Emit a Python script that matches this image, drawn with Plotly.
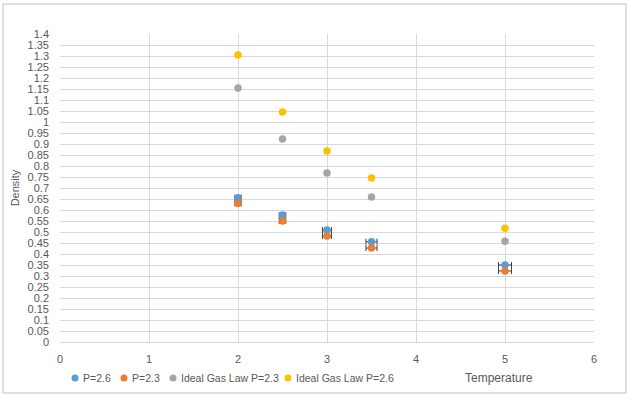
import plotly.graph_objects as go

temps = [2, 2.5, 3, 3.5, 5]
density_p26 = [0.656, 0.577, 0.509, 0.456, 0.350]
density_p23 = [0.630, 0.550, 0.482, 0.427, 0.323]
ideal_p23 = [1.155, 0.923, 0.768, 0.659, 0.458]
ideal_p26 = [1.305, 1.045, 0.868, 0.745, 0.517]
temp_err = [0.035, 0.037, 0.05, 0.062, 0.073]

names = ["P=2.6", "P=2.3", "Ideal Gas Law P=2.3", "Ideal Gas Law P=2.6"]
colors = ["#5B9BD5", "#ED7D31", "#A5A5A5", "#FFC000"]
series = [density_p26, density_p23, ideal_p23, ideal_p26]
errs = [temp_err, temp_err, None, None]

# plot area in pixels
L, R, T, B = 60, 594, 34, 342
W, H = R - L, B - T


def px_x(p):
    return (p - L) / W


def px_y(p):
    return (B - p) / H


fig = go.Figure()
for n, c, s, e in zip(names, colors, series, errs):
    kw = {}
    if e is not None:
        kw["error_x"] = dict(type="data", array=e, visible=True, color="#404040",
                             thickness=1, width=3)
    fig.add_trace(go.Scatter(x=temps, y=s, mode="markers", name=n, showlegend=False,
                             marker=dict(color=c, size=7.5), **kw))

ytick_vals = [round(i * 0.05, 2) for i in range(29)]
ytick_text = [("%g" % v) for v in ytick_vals]

# legend drawn at the bottom, Excel style (marker + label)
legend_marker_pos = [75, 124, 173, 288]
legend_text_pos = [81, 130, 179, 294]
legend_y = 378
annotations = []
shapes = []
for n, c, mp, tp in zip(names, colors, legend_marker_pos, legend_text_pos):
    shapes.append(dict(type="circle", xref="paper", yref="paper",
                       xsizemode="pixel", ysizemode="pixel",
                       xanchor=px_x(mp), yanchor=px_y(legend_y),
                       x0=-3.5, x1=3.5, y0=-3.5, y1=3.5,
                       fillcolor=c, line=dict(width=0)))
    annotations.append(dict(text=n, xref="paper", yref="paper", x=px_x(tp), y=px_y(legend_y),
                            xanchor="left", yanchor="middle", showarrow=False,
                            font=dict(size=10.5, color="#595959")))

annotations.append(dict(text="Temperature", xref="paper", yref="paper", x=px_x(499),
                        y=px_y(legend_y), xanchor="center", yanchor="middle",
                        showarrow=False, font=dict(size=12, color="#595959")))
shapes.append(dict(type="rect", xref="paper", yref="paper", x0=px_x(3), x1=px_x(626),
                   y0=px_y(393), y1=px_y(4), line=dict(color="#BFBFBF", width=1)))

fig.update_layout(
    width=629, height=396,
    showlegend=False,
    paper_bgcolor="white", plot_bgcolor="white",
    margin=dict(l=L, r=629 - R, t=T, b=396 - B, autoexpand=False),
    font=dict(family="Liberation Sans, Arial, sans-serif", size=11, color="#595959"),
    xaxis=dict(range=[0, 6], dtick=1, showgrid=True, gridcolor="#D9D9D9", gridwidth=1,
               zeroline=False, showline=True, linecolor="#D9D9D9", ticks="",
               ticklabelstandoff=7, automargin=False,
               tickfont=dict(size=11, color="#595959")),
    yaxis=dict(range=[0, 1.4], tickvals=ytick_vals, ticktext=ytick_text,
               showgrid=True, gridcolor="#D9D9D9", gridwidth=1, zeroline=False,
               showline=False, ticks="", automargin=False, ticklabelstandoff=10,
               tickfont=dict(size=11, color="#595959"),
               title=dict(text="Density", font=dict(size=11, color="#595959"), standoff=5)),
    annotations=annotations,
    shapes=shapes,
)

fig.write_html("out.html", config={"displayModeBar": False},
               post_script="document.body.style.margin='0px';")
